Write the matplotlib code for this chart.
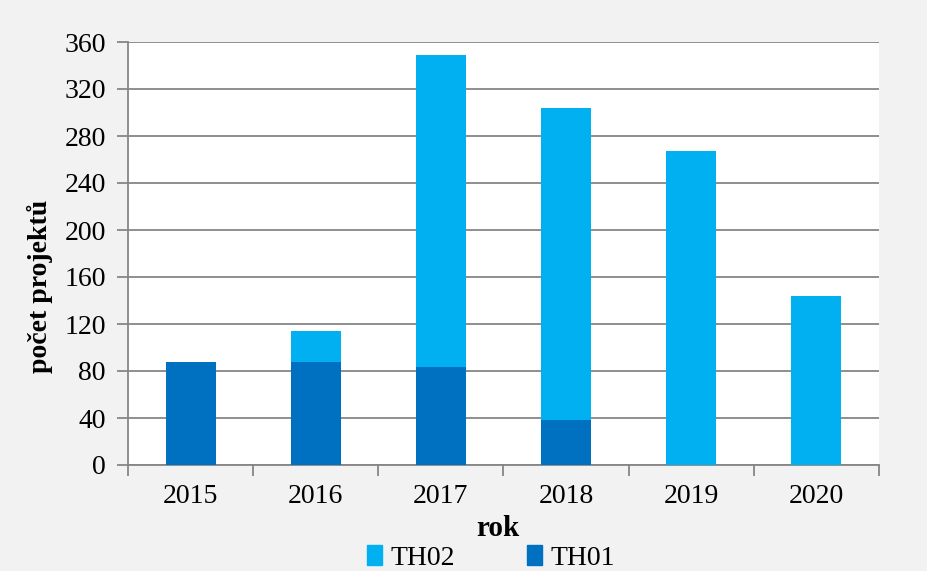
import numpy as np
import matplotlib.pyplot as plt
from matplotlib.patches import Patch

plt.rcParams['font.family'] = ['Liberation Serif', 'DejaVu Serif']

years = ['2015', '2016', '2017', '2018', '2019', '2020']
th01 = [88, 88, 83, 38, 0, 0]
th02 = [0, 26, 266, 266, 267, 144]

c_th01 = '#0070C0'
c_th02 = '#00B0F0'
grid_c = '#868686'

fig = plt.figure(figsize=(9.27, 5.71), dpi=100, facecolor='#F2F2F2')
ax = fig.add_axes([128 / 927, 1 - 465 / 571, (879 - 128) / 927, (465 - 42) / 571])
ax.set_facecolor('white')

x = np.arange(len(years))
ax.bar(x, th01, width=0.4, color=c_th01, zorder=3)
ax.bar(x, th02, width=0.4, bottom=th01, color=c_th02, zorder=3)

ax.set_xlim(-0.5, len(years) - 0.5)
ax.set_ylim(0, 360)
ax.set_yticks(np.arange(0, 361, 40))
ax.yaxis.grid(True, color=grid_c, linewidth=1.3, zorder=0)

# category labels at centres, tick marks between categories
ax.set_xticks(x)
ax.set_xticklabels(years, fontsize=20)
ax.tick_params(axis='x', which='major', length=0, pad=14)
ax.set_xticks(np.arange(-0.5, len(years)), minor=True)
ax.tick_params(axis='x', which='minor', length=8, width=1.3, color=grid_c)
ax.tick_params(axis='y', labelsize=20, length=8, width=1.3, color=grid_c, pad=8)

for s in ['top', 'right']:
    ax.spines[s].set_visible(False)
for s in ['left', 'bottom']:
    ax.spines[s].set_color(grid_c)
    ax.spines[s].set_linewidth(1.3)

fig.text(498 / 927, 1 - 529 / 571, 'rok', fontsize=21, fontweight='bold',
         ha='center', va='center')
fig.text(40 / 927, 1 - 286 / 571, 'počet projektů', fontsize=20, fontweight='bold',
         rotation=90, ha='center', va='center')

handles = [Patch(color=c_th02, label='TH02'), Patch(color=c_th01, label='TH01')]
fig.legend(handles=handles, loc='center', bbox_to_anchor=(491 / 927, 1 - 558 / 571),
           ncol=2, frameon=False, fontsize=20, handlelength=0.55, handleheight=0.75,
           handletextpad=0.3, columnspacing=2.6)

fig.savefig('out.png', dpi=100, facecolor=fig.get_facecolor())
